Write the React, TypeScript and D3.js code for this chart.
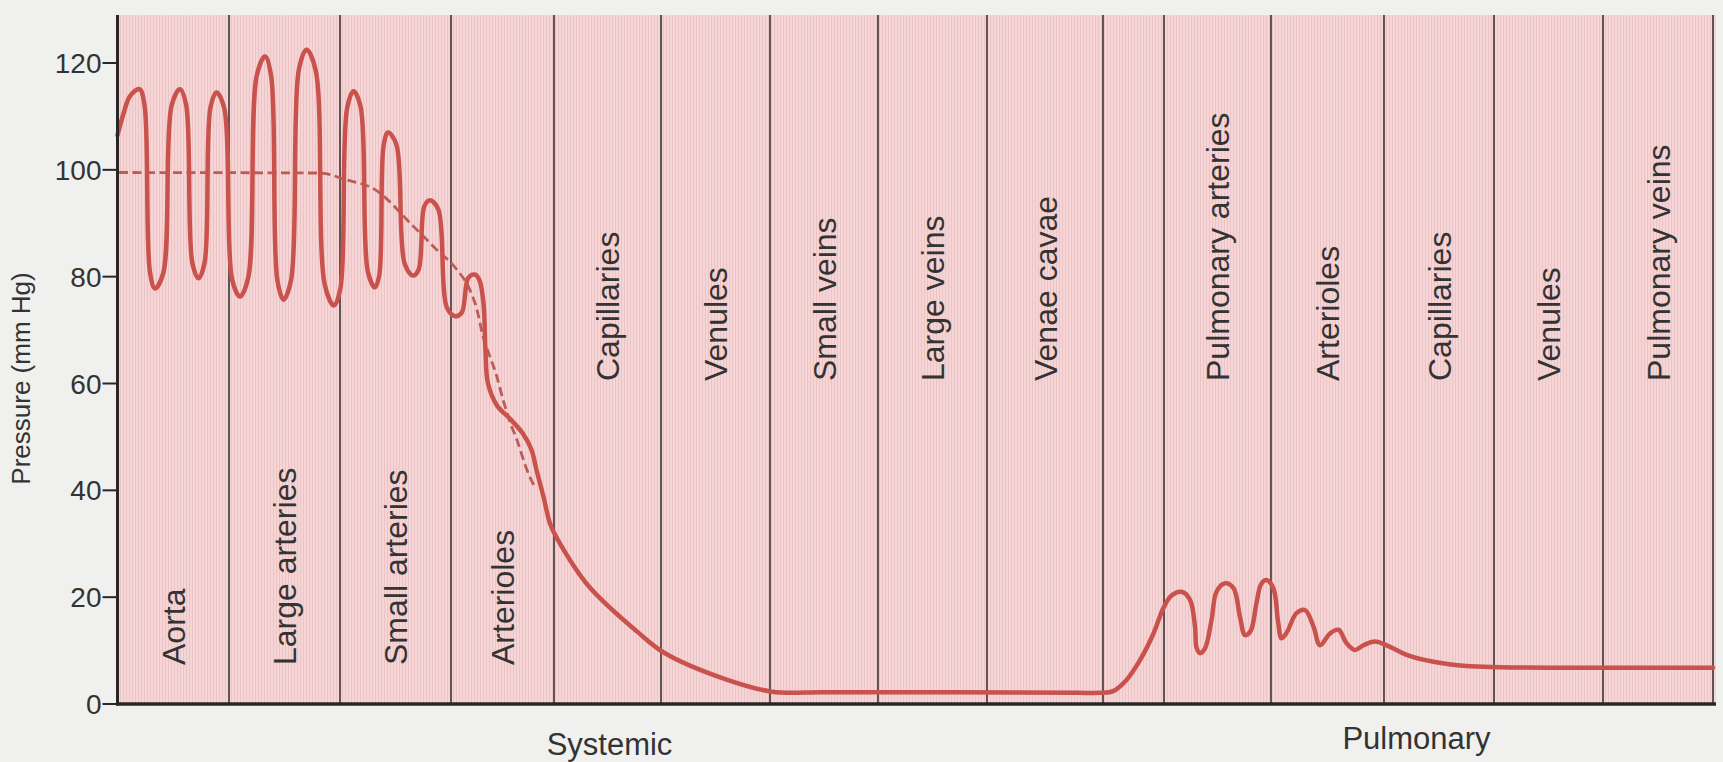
import React from 'react';
import * as d3 from 'd3';

const W = 1723;
const H = 762;

// Y axis ticks (mm Hg)
const yTicks = [0, 20, 40, 60, 80, 100, 120];

// Boundaries of vessel segments along the circulation path (relative position units)
const segmentBounds = [0, 11.15, 22.25, 33.35, 43.65, 54.35, 65.25, 76.05, 86.95, 98.55, 104.65, 115.35, 126.65, 137.65, 148.55, 159.55];

// Segment labels (null = unlabeled gap); index matches segment i (bounds i..i+1)
const segmentLabels = [
  'Aorta', 'Large arteries', 'Small arteries', 'Arterioles',
  'Capillaries', 'Venules', 'Small veins', 'Large veins', 'Venae cavae',
  null,
  'Pulmonary arteries', 'Arterioles', 'Capillaries', 'Venules', 'Pulmonary veins',
];
// which labels sit low (true) vs high (false)
const segmentLabelLow = [true, true, true, true, false, false, false, false, false, false, false, false, false, false, false];

// Group labels under the axis and their centre positions
const groupNames = ['Systemic', 'Pulmonary'];
const groupCentres = [49.2, 129.9];

// Pressure trace [position, mmHg]
const pressureTrace: [number, number][] = [
  // aorta
  [0.0, 106.5], [0.6, 110.5], [1.25, 113.8], [2.2, 115.1], [2.7, 112.1],
  [3.25, 80.8], [3.75, 77.8], [4.58, 80.7],
  [5.42, 112.1], [6.25, 115.1], [6.86, 112.2],
  [7.49, 82.5], [8.1, 79.7], [8.7, 82.5],
  [9.3, 111.7], [9.9, 114.5], [10.68, 111.5],
  // large arteries
  [11.47, 79.4], [12.25, 76.3], [13.08, 79.9],
  [13.92, 117.6], [14.75, 121.2], [15.36, 117.6],
  [15.99, 79.3], [16.6, 75.7], [17.36, 79.4],
  [18.14, 118.8], [18.9, 122.5], [19.81, 118.7],
  [20.74, 78.4], [21.65, 74.6], [22.29, 77.8],
  // small arteries
  [22.96, 111.5], [23.6, 114.7], [24.31, 111.8],
  [25.04, 80.9], [25.75, 78.0], [26.18, 80.3],
  [26.62, 104.7], [27.05, 107.0], [27.88, 104.8],
  [28.72, 82.4], [29.55, 80.2], [30.11, 81.3],
  [30.69, 93.2], [31.25, 94.3], [32.08, 92.6],
  // arterioles
  [32.92, 74.3], [33.75, 72.6], [34.41, 73.2],
  [35.09, 79.8], [35.75, 80.4], [36.2, 79.3],
  [36.6, 75.0], [36.8, 66.0], [37.05, 60.0], [37.95, 55.9], [39.25, 53.4],
  [40.55, 50.6], [41.4, 47.6], [41.9, 43.8], [42.6, 38.8], [43.25, 33.8],
  // capillaries → venae cavae
  [44.05, 30.7], [47.15, 22.0], [52.0, 13.5], [54.75, 9.5], [60.55, 4.8],
  [65.45, 2.3], [70.5, 2.2], [80.0, 2.2], [90.0, 2.15], [96.0, 2.1], [98.25, 2.1],
  // pulmonary
  [99.55, 2.4], [100.9, 4.5], [102.25, 8.2], [103.6, 13.2], [104.6, 18.0],
  [105.4, 20.3], [106.4, 21.0], [107.25, 19.5], [107.75, 14.5],
  [107.9, 10.6], [108.25, 9.5], [108.75, 10.4],
  [109.4, 15.7], [109.9, 21.0], [110.75, 22.6], [111.6, 21.7], [112.25, 16.3],
  [112.75, 12.9], [113.3, 13.6],
  [113.9, 18.9], [114.35, 22.4], [114.9, 23.2], [115.6, 21.6], [116.05, 15.5],
  [116.4, 12.3], [116.9, 13.3],
  [117.9, 17.0], [118.75, 17.6], [119.6, 14.5],
  [120.25, 11.0], [121.25, 13.2],
  [122.1, 13.9], [122.9, 11.4],
  [123.75, 10.1], [124.6, 11.0],
  [125.75, 11.7], [127.25, 10.7], [128.9, 9.2], [131.6, 7.9],
  [134.9, 7.1], [138.25, 6.9], [148.25, 6.8], [159.55, 6.8],
];

// Mean pressure (dashed) [position, mmHg]
const meanTrace: [number, number][] = [
  [0.15, 99.5], [20.25, 99.4], [22.75, 98.2], [25.75, 96.3], [29.55, 89.5],
  [31.95, 85.0], [33.95, 81.3], [35.25, 77.5], [35.95, 73.8], [36.55, 68.8],
  [37.25, 65.0], [37.95, 61.2], [38.55, 57.0], [39.25, 52.8], [39.95, 49.4],
  [40.95, 43.8], [41.75, 40.5],
];

const FONT = 'Liberation Sans, Arial, Helvetica, sans-serif';

export default function App() {
  const x = d3.scaleLinear().domain([0, 160]).range([117.5, 1717.5]);
  const y = d3.scaleLinear().domain([0, 120]).range([704, 63]);

  const traceLine = d3
    .line<[number, number]>()
    .x((d) => x(d[0]))
    .y((d) => y(d[1]))
    .curve(d3.curveCatmullRom.alpha(0.5));

  const meanLine = d3
    .line<[number, number]>()
    .x((d) => x(d[0]))
    .y((d) => y(d[1]))
    .curve(d3.curveMonotoneX);

  const plotTop = 15;
  const plotLeft = x(0);
  const plotRight = x(segmentBounds[segmentBounds.length - 1]) + 3;
  const plotBottom = y(0);

  return (
    <svg
      width={W}
      height={H}
      viewBox={`0 0 ${W} ${H}`}
      style={{ position: 'absolute', left: 0, top: 0, display: 'block' }}
    >
      <defs>
        <pattern id="halftone" width="3" height="3" patternUnits="userSpaceOnUse">
          <rect width="3" height="3" fill="#f5d5d5" />
          <rect width="1" height="3" fill="#ecc4c6" />
        </pattern>
      </defs>
      <rect x={0} y={0} width={W} height={H} fill="#f0f1ef" />
      <rect
        x={plotLeft}
        y={plotTop}
        width={plotRight - plotLeft}
        height={plotBottom - plotTop}
        fill="url(#halftone)"
      />

      {/* segment dividers */}
      {segmentBounds.slice(1).map((b, i) => (
        <line
          key={'div' + i}
          x1={x(b)}
          x2={x(b)}
          y1={plotTop}
          y2={plotBottom}
          stroke="#3a3535"
          strokeWidth={1.6}
        />
      ))}

      {/* segment labels */}
      {segmentLabels.map((lab, i) => {
        if (!lab) return null;
        const cx = x((segmentBounds[i] + segmentBounds[i + 1]) / 2);
        const yStart = segmentLabelLow[i] ? 665 : 381;
        return (
          <text
            key={'lab' + i}
            transform={`translate(${cx},${yStart}) rotate(-90)`}
            dy="0.36em"
            textAnchor="start"
            fontFamily={FONT}
            fontSize={32}
            fill="#333"
          >
            {lab}
          </text>
        );
      })}

      {/* mean pressure dashed */}
      <path
        d={meanLine(meanTrace) || ''}
        fill="none"
        stroke="#bd5c56"
        strokeWidth={2.8}
        strokeDasharray="9 4.5"
      />

      {/* pressure trace */}
      <path
        d={traceLine(pressureTrace) || ''}
        fill="none"
        stroke="#c9524d"
        strokeWidth={4.5}
        strokeLinejoin="round"
        strokeLinecap="round"
      />

      {/* y axis */}
      <line x1={plotLeft} x2={plotLeft} y1={plotTop} y2={plotBottom + 1.5} stroke="#2a2626" strokeWidth={3} />
      {yTicks.map((t) => (
        <g key={'t' + t}>
          <line x1={plotLeft - 15} x2={plotLeft} y1={y(t)} y2={y(t)} stroke="#2a2626" strokeWidth={2} />
          <text
            x={plotLeft - 16}
            y={y(t)}
            dy="0.36em"
            textAnchor="end"
            fontFamily={FONT}
            fontSize={28}
            fill="#333"
          >
            {t}
          </text>
        </g>
      ))}
      {/* x axis */}
      <line x1={plotLeft - 1.5} x2={plotRight} y1={plotBottom} y2={plotBottom} stroke="#2a2626" strokeWidth={3.5} />

      {/* y axis title */}
      <text
        transform={`translate(21,${y(60) - 5}) rotate(-90)`}
        dy="0.36em"
        textAnchor="middle"
        fontFamily={FONT}
        fontSize={26}
        fill="#333"
      >
        Pressure (mm Hg)
      </text>

      {/* group labels */}
      {groupNames.map((g, i) => (
        <text
          key={'g' + g}
          x={x(groupCentres[i])}
          y={i === 0 ? 755 : 749}
          textAnchor="middle"
          fontFamily={FONT}
          fontSize={31}
          fill="#333"
        >
          {g}
        </text>
      ))}
    </svg>
  );
}
